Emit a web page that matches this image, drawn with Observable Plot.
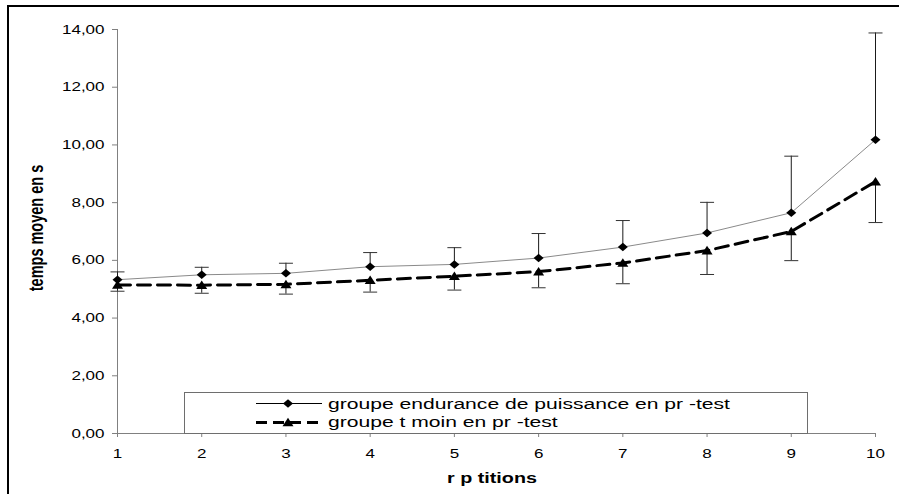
<!DOCTYPE html>
<html><head><meta charset="utf-8">
<script src="https://cdn.jsdelivr.net/npm/d3@7"></script>
<script src="https://cdn.jsdelivr.net/npm/@observablehq/plot@0.6"></script>
<style>
html,body{margin:0;padding:0;background:#fff;}
body{width:899px;height:494px;position:relative;overflow:hidden;font-family:"Liberation Sans",Arial,sans-serif;}
#frame{position:absolute;left:7px;top:5px;width:1000px;height:1000px;border-left:2px solid #000;border-top:2px solid #000;}
#chart{position:absolute;left:0;top:0;}
.title{position:absolute;white-space:nowrap;font-weight:bold;font-size:14.5px;color:#000;transform-origin:0 0;line-height:1;font-family:"Liberation Sans",Arial,sans-serif;}
#legend{position:absolute;left:184px;top:392px;overflow:visible;}
</style></head><body>
<div id="frame"></div>
<div id="chart"></div>
<svg id="legend" width="624" height="42"></svg>
<span class="title" id="xtitle" style="left:492px;top:478px;transform:scaleX(1.36) translate(-50%,-50%)">r p titions</span>
<span class="title" id="ytitle" style="left:37px;top:228px;transform:scaleX(1.36) rotate(-90deg) translate(-50%,-50%)">temps moyen en s</span>
<script>
// ---- data ----
const repetitions = [1, 2, 3, 4, 5, 6, 7, 8, 9, 10];
const enduranceMean = [5.33, 5.50, 5.55, 5.78, 5.86, 6.08, 6.46, 6.95, 7.65, 10.18];
const enduranceSD   = [0.27, 0.26, 0.35, 0.49, 0.58, 0.85, 0.92, 1.06, 1.96, 3.70];
const temoinMean    = [5.15, 5.14, 5.17, 5.31, 5.45, 5.61, 5.91, 6.34, 7.00, 8.73];
const temoinSD      = [0.22, 0.28, 0.34, 0.41, 0.48, 0.56, 0.72, 0.83, 1.01, 1.42];
const yTicks = [0, 2, 4, 6, 8, 10, 12, 14];
const seriesNames = ["groupe endurance de puissance en pr -test", "groupe t moin en pr -test"];

const endurance = repetitions.map((r, i) => ({rep: r, m: enduranceMean[i], hi: enduranceMean[i] + enduranceSD[i]}));
const temoin = repetitions.map((r, i) => ({rep: r, m: temoinMean[i], lo: temoinMean[i] - temoinSD[i]}));

// custom symbols
const diamondSym = {draw(ctx, size) {const r = Math.sqrt(size / Math.PI); ctx.moveTo(0, -0.85 * r); ctx.lineTo(r, 0); ctx.lineTo(0, 0.85 * r); ctx.lineTo(-r, 0); ctx.closePath();}};
const triSym = {draw(ctx, size) {const r = Math.sqrt(size / Math.PI); ctx.moveTo(0, -0.85 * r); ctx.lineTo(r, 0.7 * r); ctx.lineTo(-r, 0.7 * r); ctx.closePath();}};
const capSym = {draw(ctx, size) {const r = Math.sqrt(size / Math.PI); ctx.moveTo(-r, 0); ctx.lineTo(r, 0);}};

const chart = Plot.plot({
  width: 899, height: 494,
  marginLeft: 117, marginRight: 24, marginTop: 29, marginBottom: 61,
  style: {fontFamily: "'Liberation Sans', Arial, sans-serif", fontSize: "12.5px", background: "transparent", color: "#808080", overflow: "visible"},
  x: {domain: [1, 10], ticks: repetitions, tickFormat: d => String(d), tickSize: 4, tickPadding: 12, label: null},
  y: {domain: [0, 14], ticks: yTicks, tickFormat: d => d.toFixed(2).replace(".", ","), tickSize: 5, tickPadding: 8, label: null},
  marks: [
    Plot.ruleY([0], {stroke: "#808080"}),
    Plot.ruleX([1], {stroke: "#808080"}),
    Plot.line(endurance, {x: "rep", y: "m", stroke: "#8a8a8a", strokeWidth: 1}),
    Plot.line(temoin, {x: "rep", y: "m", stroke: "#000", strokeWidth: 3, strokeDasharray: "13,7"}),
    Plot.ruleX(endurance, {x: "rep", y1: "m", y2: "hi", stroke: "#1a1a1a", strokeWidth: 1}),
    Plot.ruleX(temoin, {x: "rep", y1: "lo", y2: "m", stroke: "#1a1a1a", strokeWidth: 1}),
    Plot.dot(endurance, {x: "rep", y: "hi", symbol: capSym, r: 7, fill: "none", stroke: "#333", strokeWidth: 1}),
    Plot.dot(temoin, {x: "rep", y: "lo", symbol: capSym, r: 7, fill: "none", stroke: "#333", strokeWidth: 1}),
    Plot.dot(endurance, {x: "rep", y: "m", symbol: diamondSym, r: 5, fill: "#000", stroke: "none"}),
    Plot.dot(temoin, {x: "rep", y: "m", symbol: triSym, r: 5.5, fill: "#000", stroke: "none"})
  ]
});
document.getElementById("chart").appendChild(chart);

// stretch tick label text horizontally like the reference, keep black
const SX = 1.36;
chart.querySelectorAll("text").forEach(t => {
  t.setAttribute("fill", "#000");
  let tr = t.getAttribute("transform") || "";
  let x = t.getAttribute("x"), dx = t.getAttribute("dx");
  let ox = 0;
  if (x != null && /^-?[\d.]+$/.test(x.trim())) { ox += +x; t.removeAttribute("x"); }
  if (dx != null && /^-?[\d.]+$/.test(dx.trim())) { ox += +dx; t.removeAttribute("dx"); }
  t.setAttribute("transform", `${tr} translate(${ox},0) scale(${SX},1)`);
});

// legend
const lg = d3.select("#legend");
lg.append("rect").attr("x", 0.5).attr("y", 0.5).attr("width", 623).attr("height", 41)
  .attr("fill", "#fff").attr("stroke", "#6e6e6e");
const rows = [
  {y: 11.5, base: 17, dash: null, w: 1, shape: "M0,-4.2L5,0L0,4.2L-5,0Z"},
  {y: 30.5, base: 35, dash: "11,6", w: 3, shape: "M0,-4.7L5.5,3.8L-5.5,3.8Z"}
];
rows.forEach((r, i) => {
  lg.append("line").attr("x1", 72).attr("x2", 138).attr("y1", r.y).attr("y2", r.y)
    .attr("stroke", "#000").attr("stroke-width", r.w).attr("stroke-dasharray", r.dash);
  lg.append("path").attr("d", r.shape).attr("transform", `translate(104,${r.y})`).attr("fill", "#000");
  lg.append("text").attr("transform", `translate(144,${r.base}) scale(${SX},1)`)
    .attr("font-family", "'Liberation Sans', Arial, sans-serif").attr("font-size", 15.5)
    .attr("fill", "#000").text(seriesNames[i]);
});
</script>
</body></html>
